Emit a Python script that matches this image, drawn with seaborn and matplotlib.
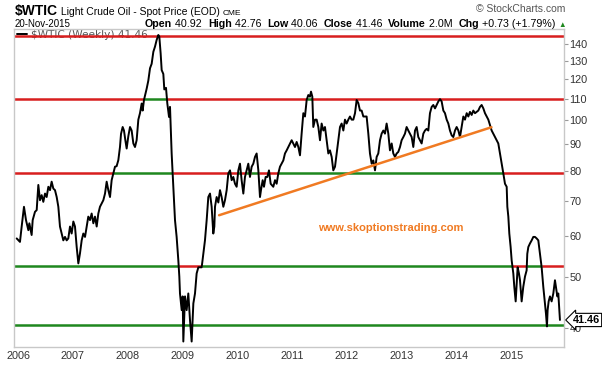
import numpy as np
import matplotlib
matplotlib.use("Agg")
import matplotlib.pyplot as plt
import matplotlib.transforms as mtransforms
from matplotlib.ticker import FixedLocator, FixedFormatter, NullLocator
import seaborn as sns

# Weekly closes of $WTIC (decimal year, price)
years = [
    2005.976, 2006.036, 2006.067, 2006.109, 2006.146, 2006.189, 2006.207, 2006.249, 2006.268, 2006.310,
    2006.341, 2006.371, 2006.401, 2006.432, 2006.462, 2006.493, 2006.523, 2006.554, 2006.584, 2006.614,
    2006.645, 2006.675, 2006.706, 2006.736, 2006.766, 2006.797, 2006.827, 2006.858, 2006.888, 2006.918,
    2006.949, 2006.979, 2007.010, 2007.040, 2007.071, 2007.101, 2007.131, 2007.162, 2007.192, 2007.223,
    2007.253, 2007.283, 2007.314, 2007.344, 2007.375, 2007.405, 2007.436, 2007.466, 2007.496, 2007.527,
    2007.557, 2007.588, 2007.618, 2007.648, 2007.679, 2007.709, 2007.740, 2007.770, 2007.800, 2007.831,
    2007.861, 2007.880, 2007.910, 2007.934, 2007.959, 2007.983, 2008.013, 2008.044, 2008.074, 2008.105,
    2008.135, 2008.165, 2008.196, 2008.226, 2008.257, 2008.275, 2008.299, 2008.348, 2008.378, 2008.409,
    2008.439, 2008.470, 2008.500, 2008.530, 2008.561, 2008.579, 2008.603, 2008.622, 2008.652, 2008.670,
    2008.701, 2008.725, 2008.756, 2008.774, 2008.804, 2008.835, 2008.865, 2008.895, 2008.926, 2008.944,
    2008.956, 2008.987, 2009.005, 2009.017, 2009.048, 2009.078, 2009.108, 2009.139, 2009.169, 2009.200,
    2009.230, 2009.260, 2009.291, 2009.352, 2009.382, 2009.412, 2009.443, 2009.473, 2009.504, 2009.534,
    2009.564, 2009.583, 2009.595, 2009.625, 2009.656, 2009.686, 2009.716, 2009.747, 2009.777, 2009.808,
    2009.838, 2009.869, 2009.899, 2009.929, 2009.960, 2009.990, 2010.021, 2010.051, 2010.081, 2010.112,
    2010.142, 2010.173, 2010.203, 2010.233, 2010.264, 2010.294, 2010.325, 2010.355, 2010.386, 2010.416,
    2010.434, 2010.465, 2010.489, 2010.519, 2010.550, 2010.580, 2010.611, 2010.659, 2010.690, 2010.720,
    2010.750, 2010.781, 2010.811, 2010.842, 2010.872, 2010.903, 2010.933, 2010.963, 2010.994, 2011.024,
    2011.055, 2011.085, 2011.116, 2011.146, 2011.176, 2011.207, 2011.237, 2011.268, 2011.298, 2011.328,
    2011.347, 2011.371, 2011.389, 2011.420, 2011.450, 2011.481, 2011.511, 2011.541, 2011.572, 2011.602,
    2011.633, 2011.663, 2011.693, 2011.724, 2011.754, 2011.785, 2011.815, 2011.845, 2011.876, 2011.906,
    2011.937, 2011.967, 2011.997, 2012.028, 2012.058, 2012.089, 2012.119, 2012.150, 2012.180, 2012.210,
    2012.241, 2012.271, 2012.302, 2012.362, 2012.393, 2012.423, 2012.454, 2012.484, 2012.515, 2012.545,
    2012.575, 2012.606, 2012.636, 2012.667, 2012.697, 2012.727, 2012.758, 2012.788, 2012.819, 2012.849,
    2012.880, 2012.910, 2012.940, 2012.971, 2013.001, 2013.032, 2013.062, 2013.092, 2013.123, 2013.153,
    2013.184, 2013.214, 2013.245, 2013.275, 2013.305, 2013.336, 2013.366, 2013.397, 2013.427, 2013.457,
    2013.488, 2013.518, 2013.549, 2013.579, 2013.610, 2013.640, 2013.671, 2013.701, 2013.731, 2013.762,
    2013.792, 2013.823, 2013.853, 2013.883, 2013.914, 2013.944, 2013.975, 2014.005, 2014.036, 2014.066,
    2014.096, 2014.127, 2014.157, 2014.188, 2014.218, 2014.248, 2014.279, 2014.309, 2014.340, 2014.370,
    2014.400, 2014.431, 2014.461, 2014.492, 2014.522, 2014.553, 2014.583, 2014.613, 2014.644, 2014.674,
    2014.705, 2014.735, 2014.765, 2014.796, 2014.826, 2014.857, 2014.887, 2014.918, 2014.930, 2014.948,
    2014.966, 2014.990, 2015.009, 2015.039, 2015.057, 2015.082, 2015.100, 2015.118, 2015.142, 2015.161,
    2015.191, 2015.221, 2015.252, 2015.282, 2015.294, 2015.313, 2015.343, 2015.374, 2015.404, 2015.434,
    2015.465, 2015.495, 2015.526, 2015.556, 2015.586, 2015.617, 2015.635, 2015.653, 2015.665, 2015.684,
    2015.708, 2015.738, 2015.769, 2015.799, 2015.817, 2015.842, 2015.860, 2015.878, 2015.890,
]
prices = [
    59.4, 58.5, 62.6, 68.3, 64.4, 61.6, 63.5, 60.3, 64.4, 66.8,
    67.3, 75.2, 70.3, 71.9, 69.8, 72.4, 71.3, 74.6, 73.5, 76.3,
    74.0, 73.5, 71.3, 68.3, 62.6, 60.7, 58.9, 59.8, 58.9, 59.4,
    62.6, 60.7, 64.0, 62.6, 57.2, 53.2, 55.6, 58.9, 60.7, 59.8,
    62.6, 65.4, 64.4, 66.3, 63.5, 65.4, 62.6, 66.3, 68.3, 69.3,
    70.3, 72.4, 76.3, 73.5, 71.3, 76.8, 79.1, 81.5, 81.7, 83.9,
    88.9, 94.2, 97.1, 95.6, 91.6, 88.3, 93.2, 97.1, 95.6, 90.3,
    88.9, 91.6, 100.3, 103.2, 107.7, 104.4, 109.4, 115.0, 119.1, 125.8,
    128.3, 135.3, 138.4, 142.5, 145.7, 144.6, 134.4, 124.8, 122.7, 114.6,
    115.4, 107.7, 101.5, 106.1, 86.4, 74.6, 64.4, 59.8, 53.9, 50.2,
    46.6, 43.3, 46.0, 37.7, 46.0, 43.3, 46.6, 41.4, 37.7, 44.6,
    46.6, 50.9, 52.3, 52.3, 55.5, 58.9, 64.4, 71.3, 72.4, 68.3,
    60.7, 62.6, 68.3, 71.3, 69.6, 73.5, 71.3, 68.3, 70.3, 73.5,
    79.1, 80.2, 76.8, 77.9, 75.6, 74.6, 80.2, 82.6, 76.8, 72.4,
    77.9, 80.2, 82.6, 77.9, 81.5, 82.6, 85.1, 86.4, 80.2, 71.3,
    73.5, 76.8, 74.6, 77.9, 77.9, 80.2, 75.6, 74.6, 76.8, 75.6,
    79.1, 81.5, 82.6, 83.8, 86.4, 87.6, 88.9, 90.3, 91.6, 90.3,
    88.9, 90.9, 88.9, 85.7, 94.3, 103.2, 101.7, 109.4, 111.8, 111.0,
    113.5, 111.0, 97.1, 100.3, 100.3, 97.1, 91.6, 98.6, 95.6, 97.1,
    91.6, 86.4, 87.6, 85.1, 80.2, 81.5, 86.4, 91.6, 97.1, 98.6,
    95.6, 100.3, 98.6, 100.3, 101.7, 100.3, 100.3, 103.2, 109.4, 107.9,
    104.4, 104.4, 101.7, 101.7, 94.3, 86.4, 82.6, 83.8, 80.2, 85.1,
    86.4, 91.6, 94.3, 95.6, 94.3, 98.6, 94.3, 87.6, 90.3, 86.4,
    85.1, 86.4, 87.0, 88.9, 91.6, 92.9, 94.3, 97.1, 95.6, 94.3,
    92.9, 88.9, 95.6, 97.1, 92.9, 91.6, 90.3, 94.3, 95.6, 96.3,
    95.6, 103.2, 106.1, 107.0, 105.4, 107.0, 108.7, 109.8, 108.7, 104.4,
    103.2, 100.3, 98.6, 95.6, 93.6, 92.9, 95.6, 97.1, 95.6, 92.9,
    97.1, 101.7, 100.3, 103.2, 101.7, 103.8, 102.4, 104.4, 103.2, 103.8,
    104.4, 106.1, 107.0, 105.4, 103.2, 101.7, 100.3, 98.0, 95.6, 94.3,
    92.9, 91.6, 90.3, 86.4, 82.6, 79.1, 75.6, 74.6, 68.3, 65.4,
    60.7, 57.2, 53.9, 50.9, 48.0, 45.0, 48.6, 52.3, 50.9, 49.4,
    45.0, 48.0, 50.2, 51.6, 55.5, 57.2, 58.1, 58.9, 59.8, 59.8,
    59.4, 58.9, 55.5, 52.3, 48.0, 44.6, 42.6, 40.3, 43.3, 45.0,
    46.0, 45.0, 46.6, 49.4, 48.0, 46.0, 46.6, 43.3, 41.46,
]

# support / resistance levels drawn on the chart
levels = [145.3, 110.0, 79.2, 52.5, 40.6]
trend_years = [2009.67, 2014.64]
trend_prices = [65.8, 97.0]
year_ticks = list(range(2006, 2016))
price_ticks = [40, 50, 60, 70, 80, 90, 100, 110, 120, 130, 140]
last_close = 41.46

RED = "#d81e1e"
GREEN = "#1e871e"
ORANGE = "#f07a22"
XMIN, XMAX = 2005.927, 2015.964

sns.set_style("white")
plt.rcParams["font.family"] = ["Liberation Sans", "DejaVu Sans"]

fig = plt.figure(figsize=(6.02, 3.65), dpi=100)
ax = fig.add_axes([14 / 602, 1 - 347 / 365, 550 / 602, 318 / 365])

# price line
sns.lineplot(x=years, y=prices, ax=ax, color="black", linewidth=1.4,
             label="$WTIC (Weekly) 41.46", zorder=3)

# level lines: green where price is above, red where it is below
yrs = np.array(years)
px = np.array(prices)
for lvl in levels:
    above = px > lvl
    xs = [XMIN]
    cols = [above[0]]
    for i in range(1, len(yrs)):
        if above[i] != above[i - 1]:
            p0, p1 = np.log(px[i - 1]), np.log(px[i])
            t = (np.log(lvl) - p0) / (p1 - p0)
            xs.append(yrs[i - 1] + t * (yrs[i] - yrs[i - 1]))
            cols.append(above[i])
    xs.append(XMAX)
    for k in range(len(cols)):
        ax.plot([xs[k], xs[k + 1]], [lvl, lvl], color=GREEN if cols[k] else RED,
                linewidth=1.8, zorder=2, solid_capstyle="butt")

# trend line
ax.plot(trend_years, trend_prices, color=ORANGE, linewidth=1.8, zorder=4)

ax.set_yscale("log")
ax.set_ylim(36.8, 149.6)
ax.set_xlim(XMIN, XMAX)
ax.yaxis.set_major_locator(FixedLocator(price_ticks))
ax.yaxis.set_major_formatter(FixedFormatter([str(v) for v in price_ticks]))
ax.yaxis.set_minor_locator(NullLocator())
ax.yaxis.tick_right()
ax.set_xticks(year_ticks)
ax.set_xticklabels([str(y) for y in year_ticks])
ax.tick_params(axis="y", which="major", length=3, width=0.8, color="#999999",
               labelsize=7.8, labelcolor="#333333", pad=1, right=True, left=False)
ax.tick_params(axis="x", length=0, labelsize=7.8, labelcolor="#333333", pad=3)
ax.set_xlabel("")
ax.set_ylabel("")
for s in ax.spines.values():
    s.set_color("#c8c8c8")
    s.set_linewidth(1.0)

leg = ax.legend(loc="center left", bbox_to_anchor=(0.0, 0.981), frameon=False,
                prop={"family": "DejaVu Sans", "size": 7.6}, handlelength=0.9,
                handletextpad=0.4, borderaxespad=0.3, borderpad=0.0)
for t in leg.get_texts():
    t.set_color("#555555")
leg.set_zorder(1)

# watermark
ax.text(0.685, 0.374, "www.skoptionstrading.com", transform=ax.transAxes,
        ha="center", va="center", color=ORANGE, fontsize=8, fontweight="bold", zorder=5)

# last price tag
tr = mtransforms.blended_transform_factory(ax.transAxes, ax.transData)
ax.text(1.016, last_close, f"{last_close:.2f}", transform=tr, ha="left", va="center",
        fontsize=7.8, fontweight="bold", color="black", clip_on=False, zorder=6,
        bbox=dict(boxstyle="larrow,pad=0.15", fc="white", ec="black", lw=0.8))

# header text
W, H = 602.0, 365.0
renderer = fig.canvas.get_renderer()


def run_text(x_px, base_px, parts, align="left"):
    widths = []
    for s, w, sz, c in parts:
        t = fig.text(0, 0, s, fontsize=sz, fontweight=w)
        widths.append(t.get_window_extent(renderer).width)
        t.remove()
    cur = x_px - sum(widths) if align == "right" else x_px
    for (s, w, sz, c), wd in zip(parts, widths):
        fig.text(cur / W, 1 - base_px / H, s, fontsize=sz, fontweight=w, color=c,
                 va="baseline", ha="left")
        cur += wd


run_text(15, 15, [("$WTIC", "bold", 10, "black"),
                  (" Light Crude Oil - Spot Price (EOD) ", "normal", 7.5, "black"),
                  ("CME", "normal", 6, "black")])
run_text(15, 27, [("20-Nov-2015", "normal", 7, "black")])
run_text(566, 27, [("Open", "bold", 7.7, "black"), (" 40.92  ", "normal", 7.7, "black"),
                   ("High", "bold", 7.7, "black"), (" 42.76  ", "normal", 7.7, "black"),
                   ("Low", "bold", 7.7, "black"), (" 40.06  ", "normal", 7.7, "black"),
                   ("Close", "bold", 7.7, "black"), (" 41.46  ", "normal", 7.7, "black"),
                   ("Volume", "bold", 7.7, "black"), (" 2.0M  ", "normal", 7.7, "black"),
                   ("Chg", "bold", 7.7, "black"), (" +0.73 (+1.79%) ", "normal", 7.7, "black"),
                   ("\u25b2", "normal", 5.5, GREEN)], align="right")
run_text(565, 12, [("\u00a9 StockCharts.com", "normal", 7.5, "#555555")], align="right")

fig.savefig("out.png", dpi=100)
plt.close(fig)
